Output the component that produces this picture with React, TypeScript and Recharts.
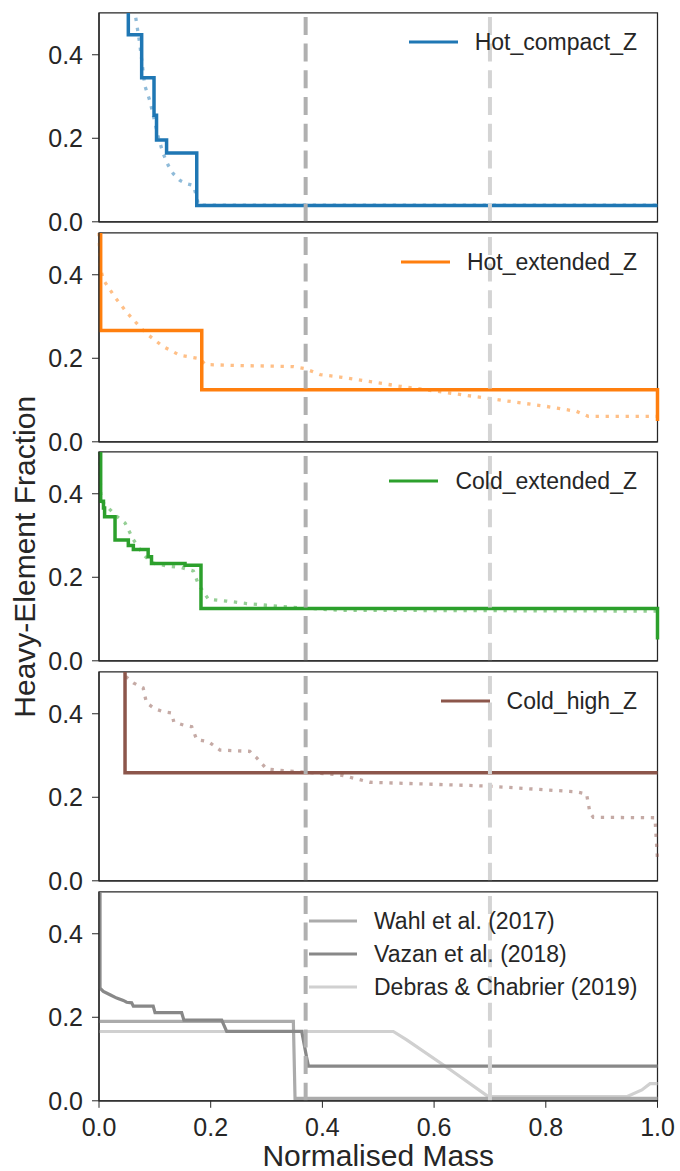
import React from 'react';
import { LineChart, Line, XAxis, YAxis, ReferenceLine, ReferenceArea } from 'recharts';

// ---------- shared axis values ----------
const xTicks = [0, 0.2, 0.4, 0.6, 0.8, 1.0];
const yTicks = [0, 0.2, 0.4];
const xDomain = [0, 1];
const yDomain = [0, 0.5];
const refLineA = 0.37;
const refLineB = 0.7;

// ---------- Panel 1: Hot_compact_Z ----------
const hotCompactX = [0, 0.0525, 0.0764, 0.0985, 0.103, 0.121, 0.175, 1.0];
const hotCompactY = [0.8, 0.448, 0.345, 0.255, 0.196, 0.165, 0.039, 0.039];
const hotCompactDotX = [0.06, 0.0645, 0.0675, 0.073, 0.082, 0.091, 0.098, 0.106, 0.115, 0.124, 0.133, 0.145, 0.157, 0.169, 0.175, 0.178, 1.0];
const hotCompactDotY = [0.56, 0.5, 0.474, 0.426, 0.326, 0.29, 0.25, 0.203, 0.163, 0.135, 0.115, 0.099, 0.091, 0.087, 0.059, 0.04, 0.04];

// ---------- Panel 2: Hot_extended_Z ----------
const hotExtX = [0, 0.003, 0.184, 1.0];
const hotExtY = [0.8, 0.2666, 0.1245, 0.05];
const hotExtDotX = [0.0, 0.002, 0.0077, 0.0287, 0.0496, 0.0734, 0.085, 0.115, 0.145, 0.181, 0.19, 0.24, 0.348, 0.369, 0.396, 0.4315, 0.539, 0.605, 0.694, 0.8, 0.855, 0.876, 1.0];
const hotExtDotY = [0.5, 0.42, 0.388, 0.346, 0.31, 0.275, 0.259, 0.228, 0.207, 0.199, 0.185, 0.183, 0.18, 0.175, 0.161, 0.155, 0.133, 0.121, 0.1045, 0.085, 0.073, 0.061, 0.061];

// ---------- Panel 3: Cold_extended_Z ----------
const coldExtX = [0, 0.003, 0.008, 0.01, 0.0287, 0.0525, 0.0615, 0.088, 0.094, 0.154, 0.1826, 1.0];
const coldExtY = [0.8, 0.382, 0.366, 0.345, 0.289, 0.276, 0.2666, 0.249, 0.233, 0.229, 0.1253, 0.051];
const coldExtDotX = [0.001, 0.003, 0.005, 0.0197, 0.0317, 0.0466, 0.0615, 0.079, 0.094, 0.121, 0.148, 0.169, 0.178, 0.196, 0.2286, 0.2645, 0.3, 0.36, 0.43, 1.0];
const coldExtDotY = [0.5, 0.4, 0.382, 0.362, 0.346, 0.33, 0.29, 0.255, 0.235, 0.227, 0.223, 0.215, 0.183, 0.147, 0.143, 0.137, 0.133, 0.127, 0.121, 0.119];

// ---------- Panel 4: Cold_high_Z ----------
const coldHighX = [0, 0.0466, 1.0];
const coldHighY = [0.8, 0.2587, 0.2587];
const coldHighDotX = [0.04, 0.0435, 0.0615, 0.079, 0.085, 0.1, 0.115, 0.13, 0.134, 0.151, 0.166, 0.175, 0.196, 0.2166, 0.27, 0.282, 0.3, 0.336, 0.4195, 0.4375, 0.485, 0.67, 0.694, 0.855, 0.873, 0.879, 0.885, 0.9955, 1.0];
const coldHighDotY = [0.51, 0.494, 0.474, 0.462, 0.426, 0.412, 0.405, 0.402, 0.38, 0.373, 0.369, 0.338, 0.333, 0.313, 0.31, 0.295, 0.268, 0.263, 0.255, 0.252, 0.236, 0.228, 0.227, 0.213, 0.208, 0.163, 0.152, 0.151, 0.051];

// ---------- Panel 5: literature models ----------
const wahlX = [0, 0.348, 0.351, 1.0];
const wahlY = [0.19, 0.19, 0.006, 0.006];
const vazanX = [0.0018, 0.0018, 0.0077, 0.0197, 0.0317, 0.0435, 0.0495, 0.0585, 0.0615, 0.097, 0.1003, 0.148, 0.152, 0.2197, 0.2286, 0.363, 0.372, 0.375, 1.0];
const vazanY = [0.6, 0.27, 0.262, 0.254, 0.246, 0.2403, 0.236, 0.2347, 0.2267, 0.2267, 0.211, 0.211, 0.193, 0.193, 0.1663, 0.1663, 0.1022, 0.083, 0.083];
const debrasX = [0, 0.527, 0.551, 0.6285, 0.697, 0.945, 0.972, 0.9866, 1.0];
const debrasY = [0.166, 0.166, 0.146, 0.075, 0.01, 0.01, 0.026, 0.041, 0.041];

const zip = (xs: number[], ys: number[]) => xs.map((x, i) => ({ x, y: ys[i] }));

// ---------- layout ----------
const FONT = '"Liberation Sans", Arial, sans-serif';
const INK = '#262626';
const W = 680;
const H = 1171;
const PANEL_TOP0 = 12.6;
const PANEL_STEP = 219.9;
const PH = 208.8;
const MT = 16;
const RIGHT = 22.5;
const YW = 99;

type Series = {
  data: { x: number; y: number }[];
  color: string;
  dotted?: boolean;
  step?: boolean;
};

type Panel = { series: Series[]; legend: { name: string; color: string }[] };

const panels: Panel[] = [
  {
    series: [
      { data: zip(hotCompactDotX, hotCompactDotY), color: '#1f77b4', dotted: true },
      { data: zip(hotCompactX, hotCompactY), color: '#1f77b4', step: true },
    ],
    legend: [{ name: 'Hot_compact_Z', color: '#1f77b4' }],
  },
  {
    series: [
      { data: zip(hotExtDotX, hotExtDotY), color: '#ff7f0e', dotted: true },
      { data: zip(hotExtX, hotExtY), color: '#ff7f0e', step: true },
    ],
    legend: [{ name: 'Hot_extended_Z', color: '#ff7f0e' }],
  },
  {
    series: [
      { data: zip(coldExtDotX, coldExtDotY), color: '#2ca02c', dotted: true },
      { data: zip(coldExtX, coldExtY), color: '#2ca02c', step: true },
    ],
    legend: [{ name: 'Cold_extended_Z', color: '#2ca02c' }],
  },
  {
    series: [
      { data: zip(coldHighDotX, coldHighDotY), color: '#8c564b', dotted: true },
      { data: zip(coldHighX, coldHighY), color: '#8c564b', step: true },
    ],
    legend: [{ name: 'Cold_high_Z', color: '#8c564b' }],
  },
  {
    series: [
      { data: zip(debrasX, debrasY), color: '#d0d0d0' },
      { data: zip(wahlX, wahlY), color: '#ababab' },
      { data: zip(vazanX, vazanY), color: '#888888' },
    ],
    legend: [
      { name: 'Wahl et al. (2017)', color: '#ababab' },
      { name: 'Vazan et al. (2018)', color: '#888888' },
      { name: 'Debras & Chabrier (2019)', color: '#d0d0d0' },
    ],
  },
];

function PanelChart({ panel, index }: { panel: Panel; index: number }) {
  const isLast = index === panels.length - 1;
  const xh = isLast ? 70 : 22;
  const top = PANEL_TOP0 + index * PANEL_STEP - MT;
  const tickStyle = { fontSize: 25, fill: INK, fontFamily: FONT };
  return (
    <div style={{ position: 'absolute', left: 0, top }}>
      <LineChart width={W} height={MT + PH + xh} margin={{ top: MT, right: RIGHT, bottom: 0, left: 0 }}>
        <XAxis
          type="number"
          dataKey="x"
          domain={xDomain}
          ticks={xTicks}
          interval={0}
          height={xh}
          tick={isLast ? tickStyle : false}
          tickFormatter={(v: number) => v.toFixed(1)}
          tickSize={7}
          tickMargin={10}
          axisLine={{ stroke: INK, strokeWidth: 1.25 }}
          tickLine={{ stroke: INK, strokeWidth: 1 }}
          label={
            isLast
              ? { value: 'Normalised Mass', position: 'insideBottom', offset: 5, fontSize: 30, fill: INK, fontFamily: FONT }
              : undefined
          }
        />
        <YAxis
          type="number"
          domain={yDomain}
          allowDataOverflow
          ticks={yTicks}
          interval={0}
          width={YW}
          tick={tickStyle}
          tickFormatter={(v: number) => v.toFixed(1)}
          tickSize={7}
          tickMargin={9}
          axisLine={{ stroke: INK, strokeWidth: 1.25 }}
          tickLine={{ stroke: INK, strokeWidth: 1 }}
        />
        <ReferenceArea
          x1={xDomain[0]}
          x2={xDomain[1]}
          y1={yDomain[0]}
          y2={yDomain[1]}
          fill="none"
          fillOpacity={0}
          stroke={INK}
          strokeWidth={1.25}
        />
        {panel.series.map((s, i) => (
          <Line
            key={i}
            data={s.data}
            dataKey="y"
            type={s.step ? 'stepAfter' : 'linear'}
            stroke={s.color}
            strokeWidth={s.dotted ? 3.3 : isLast ? 3.2 : 3.5}
            strokeOpacity={s.dotted ? 0.5 : 1}
            strokeDasharray={s.dotted ? '3.3 6.7' : undefined}
            dot={false}
            activeDot={false}
            isAnimationActive={false}
          />
        ))}
        <ReferenceLine x={refLineA} stroke="#b0b0b0" strokeWidth={4} strokeDasharray="18 8.7" />
        <ReferenceLine x={refLineB} stroke="#d4d4d4" strokeWidth={4} strokeDasharray="18 8.7" />
      </LineChart>
    </div>
  );
}

function LegendBox({ panel, index }: { panel: Panel; index: number }) {
  const isLast = index === panels.length - 1;
  const panelTop = PANEL_TOP0 + index * PANEL_STEP;
  const swatch = (color: string, w: number) => (
    <svg width={w} height={4} style={{ marginRight: 17, flex: 'none' }}>
      <line x1={0} y1={2} x2={w} y2={2} stroke={color} strokeWidth={3} />
    </svg>
  );
  if (!isLast) {
    const l = panel.legend[0];
    return (
      <div
        style={{
          position: 'absolute',
          right: W - 637,
          top: panelTop + 29 - 13,
          display: 'flex',
          alignItems: 'center',
          lineHeight: '26px',
          height: 26,
          fontSize: 23,
          fontFamily: FONT,
          color: INK,
          whiteSpace: 'nowrap',
        }}
      >
        {swatch(l.color, 49)}
        <span>{l.name}</span>
      </div>
    );
  }
  return (
    <div style={{ position: 'absolute', left: 309, top: panelTop + 12.5, fontSize: 23, fontFamily: FONT, color: INK }}>
      {panel.legend.map((l) => (
        <div key={l.name} style={{ display: 'flex', alignItems: 'center', height: 33, lineHeight: '33px', whiteSpace: 'nowrap' }}>
          {swatch(l.color, 48)}
          <span>{l.name}</span>
        </div>
      ))}
    </div>
  );
}

function YTitle() {
  const midY = PANEL_TOP0 + 2 * PANEL_STEP + PH / 2;
  const cx = 35;
  return (
    <svg width={W} height={H} style={{ position: 'absolute', left: 0, top: 0, pointerEvents: 'none' }}>
      <text x={cx} y={midY} transform={`rotate(-90 ${cx} ${midY})`} textAnchor="middle" fontSize={30} fill={INK} fontFamily={FONT}>
        Heavy-Element Fraction
      </text>
    </svg>
  );
}

export default function App() {
  return (
    <div style={{ position: 'absolute', left: 0, top: 0, width: W, height: H, background: '#fff', fontFamily: FONT }}>
      {panels.map((p, i) => (
        <PanelChart key={i} panel={p} index={i} />
      ))}
      {panels.map((p, i) => (
        <LegendBox key={'l' + i} panel={p} index={i} />
      ))}
      <YTitle />
    </div>
  );
}
